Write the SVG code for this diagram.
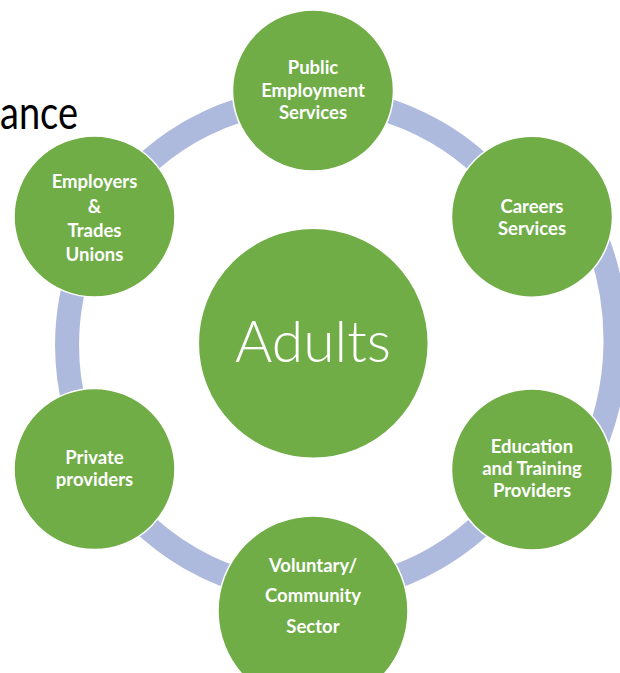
<svg xmlns="http://www.w3.org/2000/svg" width="620" height="673" viewBox="0 0 620 673">
<style>
.ring{fill:none;stroke:#AEBADD;stroke-width:24}
.node{fill:#70AD47;stroke:#FFFFFF;stroke-width:1.5}
.t{fill:#FFFFFF;font-family:Lato,"Open Sans","Liberation Sans",sans-serif;font-weight:700;font-size:18.5px;text-anchor:middle}
.big{fill:#FFFFFF;font-family:Lato,"Open Sans","Liberation Sans",sans-serif;font-weight:300;font-size:57px;text-anchor:middle}
.title{fill:#000000;font-family:Lato,"Liberation Sans",sans-serif;font-size:47px}
</style>
<rect width="620" height="673" fill="#FFFFFF"/>
<text class="title" x="0" y="129" textLength="78" lengthAdjust="spacingAndGlyphs">ance</text>
<g id="connectors">
<path class="ring" d="M100 222 A246 246 0 0 1 313 99"/>
<path class="ring" d="M313 99 A246 246 0 0 1 526 222"/>
<path class="ring" d="M586.6 216 A280.5 280.5 0 0 1 584.1 469"/>
<path class="ring" d="M526 468 A246 246 0 0 1 313 591"/>
<path class="ring" d="M313 591 A246 246 0 0 1 100 468"/>
<path class="ring" d="M100 468 A246 246 0 0 1 100 222"/>
</g>
<g id="adults">
<circle class="node" cx="313.3" cy="343.3" r="115"/>
<text class="big" x="313" y="362">Adults</text>
</g>
<g id="public-employment-services">
<circle class="node" cx="313" cy="90.5" r="80.5"/>
<text class="t" x="313" y="74">Public</text>
<text class="t" x="313" y="96.5">Employment</text>
<text class="t" x="313" y="118.5">Services</text>
</g>
<g id="careers-services">
<circle class="node" cx="532" cy="216.7" r="80.5"/>
<text class="t" x="532" y="212.5">Careers</text>
<text class="t" x="532" y="235">Services</text>
</g>
<g id="education-training">
<circle class="node" cx="532" cy="469.5" r="80.5"/>
<text class="t" x="532" y="453">Education</text>
<text class="t" x="532" y="475">and Training</text>
<text class="t" x="532" y="497">Providers</text>
</g>
<g id="voluntary-community">
<circle class="node" cx="313" cy="611" r="95"/>
<text class="t" x="313" y="572">Voluntary/</text>
<text class="t" x="313" y="602">Community</text>
<text class="t" x="313" y="633">Sector</text>
</g>
<g id="private-providers">
<circle class="node" cx="94.5" cy="469" r="80.5"/>
<text class="t" x="94.5" y="464">Private</text>
<text class="t" x="94.5" y="486">providers</text>
</g>
<g id="employers-unions">
<circle class="node" cx="94.5" cy="216.5" r="80.5"/>
<text class="t" x="94.5" y="187.5">Employers</text>
<text class="t" x="94.5" y="213">&amp;</text>
<text class="t" x="94.5" y="237">Trades</text>
<text class="t" x="94.5" y="260.5">Unions</text>
</g>
</svg>
